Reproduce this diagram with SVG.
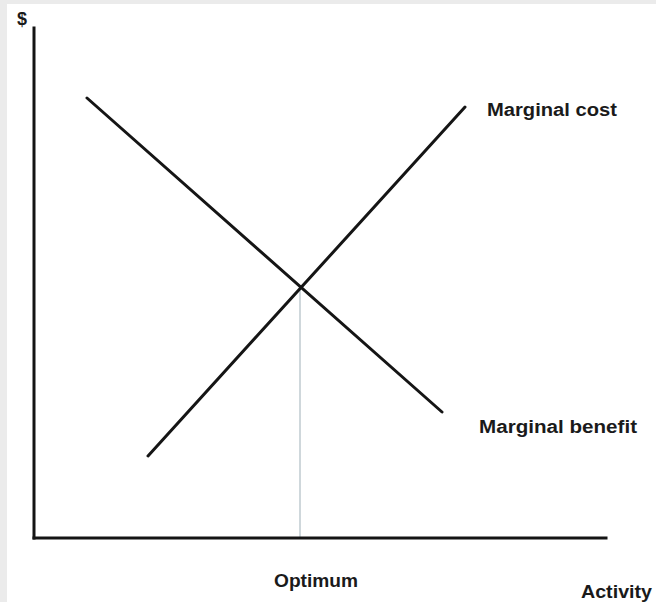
<svg xmlns="http://www.w3.org/2000/svg" width="656" height="602" viewBox="0 0 656 602">
  <style>
    .axis { stroke: #141414; stroke-width: 3; fill: none; stroke-linecap: square; }
    .curve { stroke: #151515; stroke-width: 3; fill: none; stroke-linecap: round; }
    .guide { stroke: #9fb0b8; stroke-width: 1; fill: none; }
    .lbl { font-family: "Liberation Sans", Arial, sans-serif; font-weight: bold; font-size: 18px; fill: #1a1a1a; }
  </style>
  <rect x="0" y="0" width="656" height="602" fill="#ebebeb"/>
  <rect x="7" y="4" width="649" height="598" fill="#ffffff"/>
  <g id="connectors">
    <line id="optimum-line" class="guide" x1="300" y1="288" x2="300" y2="537"/>
    <line id="marginal-benefit-line" class="curve" x1="87" y1="98" x2="442" y2="412"/>
    <line id="marginal-cost-line" class="curve" x1="148" y1="456" x2="465" y2="107"/>
  </g>
  <g id="axes">
    <line id="y-axis" class="axis" x1="34" y1="28" x2="34" y2="538"/>
    <line id="x-axis" class="axis" x1="34" y1="538" x2="606" y2="538"/>
  </g>
  <g id="label-dollar"><text class="lbl" x="17" y="25" font-size="16">$</text></g>
  <g id="label-marginal-cost"><text class="lbl" x="487" y="116" textLength="130" lengthAdjust="spacingAndGlyphs">Marginal cost</text></g>
  <g id="label-marginal-benefit"><text class="lbl" x="479" y="433" textLength="158" lengthAdjust="spacingAndGlyphs">Marginal benefit</text></g>
  <g id="label-optimum"><text class="lbl" x="274" y="587" textLength="84" lengthAdjust="spacingAndGlyphs">Optimum</text></g>
  <g id="label-activity"><text class="lbl" x="581" y="598" textLength="71" lengthAdjust="spacingAndGlyphs">Activity</text></g>
</svg>
